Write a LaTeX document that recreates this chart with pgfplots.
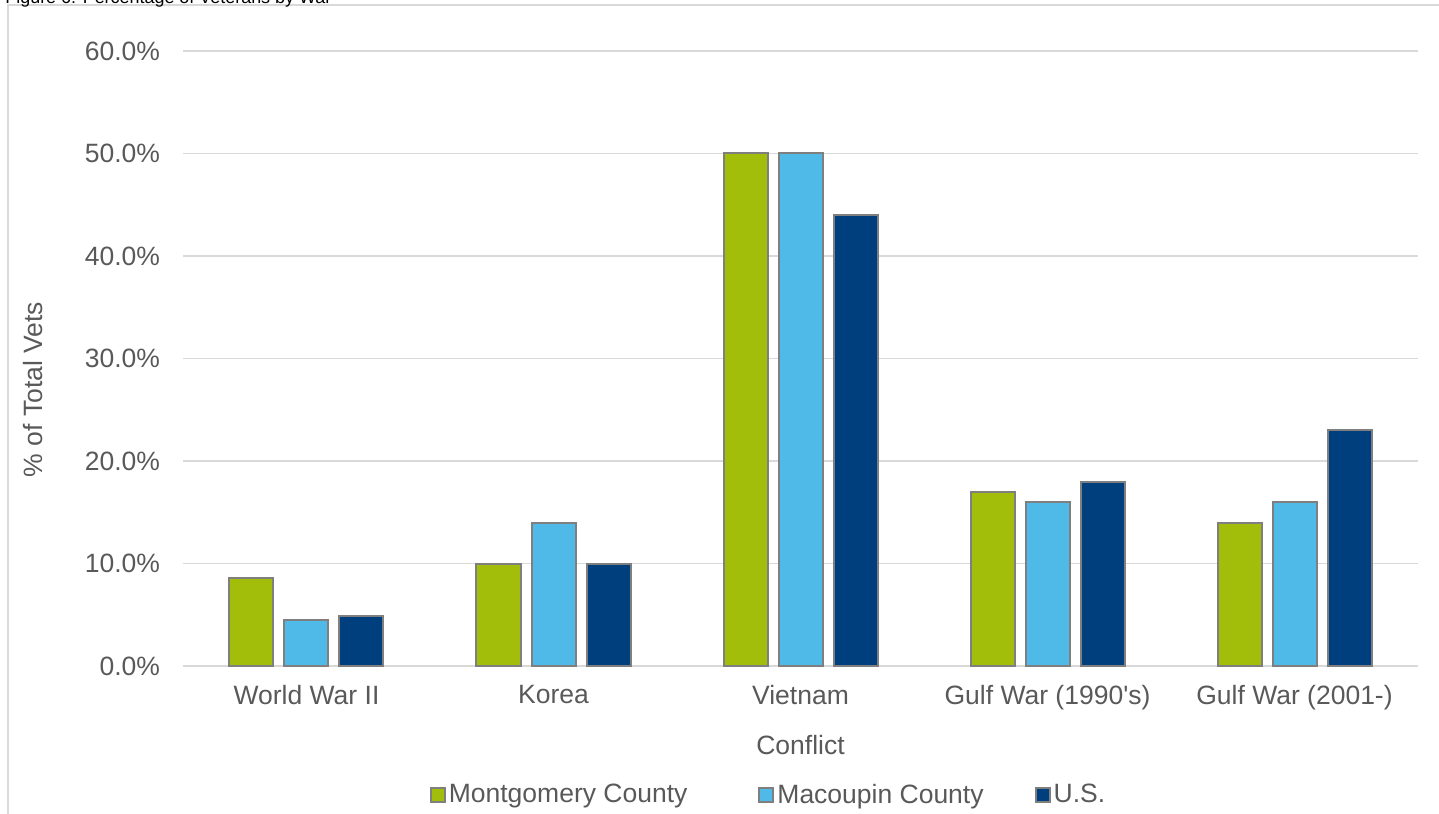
\documentclass[border=0pt]{standalone}
\usepackage{pgfplots}
\pgfplotsset{compat=1.18}
\usepackage{fontspec}
\setmainfont{Liberation Sans}

\definecolor{montg}{HTML}{A2BD0A}
\definecolor{macou}{HTML}{4FB9E8}
\definecolor{usnav}{HTML}{003F7D}
\definecolor{baredge}{HTML}{7F7F7F}
\definecolor{gridc}{HTML}{D9D9D9}
\definecolor{txt}{HTML}{595959}

\begin{document}
\begin{tikzpicture}
% page = 1439 x 814 px, 1 px = 0.5bp, plot area lower-left at origin
\path[use as bounding box] (-91.5bp,-74bp) rectangle (628bp,333bp);
\draw[gridc, line width=0.75bp] (-87.5bp,-90bp) rectangle (640bp,330.5bp);
\node[anchor=base west, inner sep=0pt, font=\fontsize{9}{11}\selectfont]
  at (-89bp,331bp) {Figure 6: Percentage of Veterans by War};

\begin{axis}[
at={(0,0)}, anchor=south west,
scale only axis,
width=617.5bp, height=307.5bp,
ybar=5.5bp, bar width=22bp,
xmin=-0.5, xmax=4.5,
ymin=0, ymax=60,
enlargelimits=false,
xtick={0,1,2,3,4},
xticklabels={World War II,Korea,Vietnam,Gulf War (1990\textquotesingle s),Gulf War (2001-)},
ytick={0,10,20,30,40,50,60},
yticklabel={\pgfmathprintnumber[fixed,fixed zerofill,precision=1,assume math mode=true]{\tick}\%},
ymajorgrids,
grid style={gridc, line width=0.75bp},
axis y line*=left,
y axis line style={draw=none},
axis x line*=bottom,
x axis line style={gridc, line width=0.75bp, -},
major tick length=0pt,
tick style={draw=none},
ticklabel style={font=\fontsize{13.3}{16}\selectfont, text=txt},
yticklabel style={xshift=-8bp},
xticklabel style={yshift=-6bp},
xlabel={Conflict},
ylabel={\% of Total Vets},
label style={font=\fontsize{13.3}{16}\selectfont, text=txt},
xlabel style={at={(axis description cs:0.5,0)}, anchor=center, yshift=-39.5bp},
ylabel style={at={(axis description cs:0,0.5)}, anchor=center, rotate=0, yshift=75bp, xshift=-15.5bp},
legend columns=3,
legend style={at={(0.4745,-0.2098)}, anchor=center, draw=none, fill=none,
  font=\fontsize{13.3}{16}\selectfont, text=txt,
  inner sep=0pt,
  nodes={inner sep=1.5bp},
  /tikz/column 2/.style={column sep=34bp},
  /tikz/column 4/.style={column sep=24bp}},
legend image code/.code={\draw[#1] (0bp,-3.5bp) rectangle (7bp,3.5bp);},
every axis plot/.append style={draw=baredge, line width=1bp},
]

\addplot[fill=montg, draw=baredge] coordinates {
(0,8.6) (1,10.0) (2,50.0) (3,17.0) (4,14.0)
};
\addplot[fill=macou, draw=baredge] coordinates {
(0,4.5) (1,14.0) (2,50.0) (3,16.0) (4,16.0)
};
\addplot[fill=usnav, draw=baredge] coordinates {
(0,4.9) (1,10.0) (2,44.0) (3,18.0) (4,23.0)
};
\legend{Montgomery County,Macoupin County,U.S.}
\end{axis}
\end{tikzpicture}
\end{document}
